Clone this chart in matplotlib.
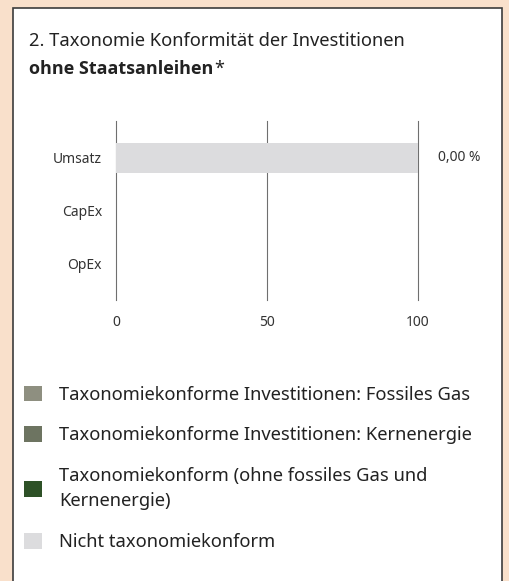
import matplotlib.pyplot as plt
from matplotlib.patches import Rectangle
import numpy as np

plt.rcParams['font.family'] = ['Noto Sans', 'DejaVu Sans']

# data
categories = ['Umsatz', 'CapEx', 'OpEx']
gas = [0, 0, 0]
kern = [0, 0, 0]
konform = [0, 0, 0]
nicht = [100, 0, 0]
value_labels = ['0,00 %', '', '']
series_names = ['Taxonomiekonforme Investitionen: Fossiles Gas',
                'Taxonomiekonforme Investitionen: Kernenergie',
                'Taxonomiekonform (ohne fossiles Gas und\nKernenergie)',
                'Nicht taxonomiekonform']
colors = ['#8e8f80', '#6d7461', '#2e5127', '#dcdcde']
xticks = [0, 50, 100]

W, H = 509, 581
fig = plt.figure(figsize=(W / 100, H / 100), dpi=100)
fig.patch.set_facecolor('#f9e0cb')

# white card
fig.patches.append(Rectangle((13 / W, -0.02), (502 - 13) / W, (H - 8) / H + 0.02,
                             transform=fig.transFigure, facecolor='white',
                             edgecolor='#3c3c3c', linewidth=1.2, zorder=-1))

fig.text(29 / W, 1 - 46 / H, '2. Taxonomie Konformität der Investitionen',
         fontsize=13.2, color='#222222', va='baseline')
bold = fig.text(29 / W, 1 - 74 / H, 'ohne Staatsanleihen', fontsize=13,
                fontweight='bold', family=['Open Sans', 'DejaVu Sans'],
                color='#222222', va='baseline')
fig.canvas.draw()
bb = bold.get_window_extent()
fig.text((bb.x1 + 0.5) / W, 1 - 74 / H, '*', fontsize=13, color='#222222',
         va='baseline')

ax = fig.add_axes([116 / W, 1 - 300 / H, (418 - 116) / W, (300 - 121) / H])
ax.set_facecolor('none')
ax.set_zorder(2)

y = np.arange(len(categories))
left = np.zeros(len(categories))
handles = []
for vals, c, name in zip([gas, kern, konform, nicht], colors, series_names):
    h = ax.barh(y, vals, left=left, height=0.57, color=c, label=name, zorder=2)
    handles.append(h)
    left = left + np.array(vals)

for yi, lab in zip(y, value_labels):
    if lab:
        ax.annotate(lab, xy=(1, yi), xycoords=('axes fraction', 'data'),
                    xytext=(14.5, 0), textcoords='offset points',
                    ha='left', va='center', fontsize=10, color='#333333')

ax.set_xlim(0, 100)
ax.set_ylim(2.7, -0.7)
ax.set_yticks(y)
ax.set_yticklabels(categories)
ax.set_xticks(xticks)
ax.set_xticklabels([str(t) for t in xticks])
for t in xticks:
    ax.axvline(t, color='#6f6f6f', linewidth=0.8, zorder=1, clip_on=False)
ax.tick_params(length=0, labelsize=10, colors='#333333')
ax.tick_params(axis='y', pad=10)
ax.tick_params(axis='x', pad=11)
for s in ax.spines.values():
    s.set_visible(False)

leg = fig.legend(handles=handles, loc='upper left',
                 bbox_to_anchor=(8 / W, 1 - 369 / H), frameon=False,
                 fontsize=13.2, handlelength=0.95, handleheight=0.95,
                 handletextpad=0.92, labelspacing=1.22, labelcolor='#222222')
for t in leg.get_texts():
    t.set_linespacing(1.55)

fig.savefig('out.png', dpi=100, facecolor=fig.get_facecolor())
